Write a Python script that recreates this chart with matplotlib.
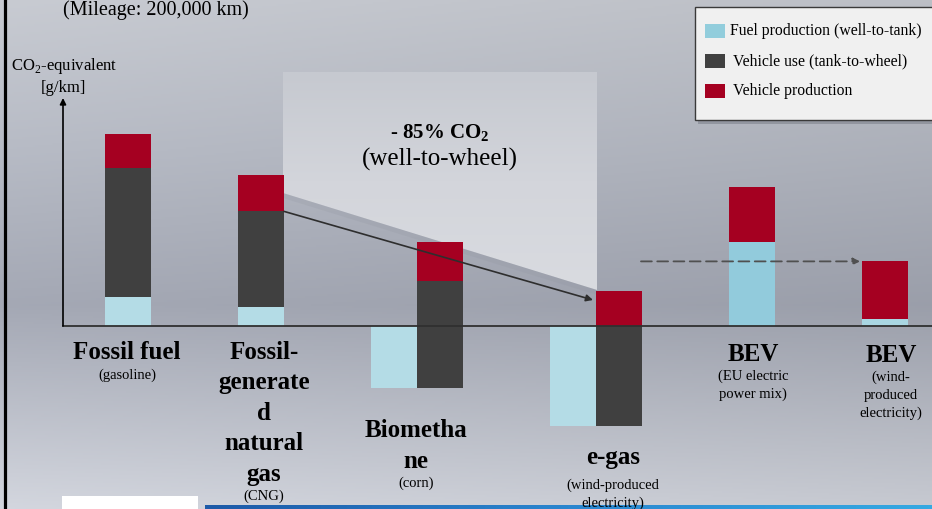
import matplotlib
matplotlib.use("Agg")
import matplotlib.pyplot as plt
import numpy as np
from matplotlib.patches import Rectangle, Polygon
from matplotlib.colors import LinearSegmentedColormap

plt.rcParams["font.family"] = ["Liberation Serif", "DejaVu Serif"]
plt.rcParams["mathtext.fontset"] = "custom"
plt.rcParams["mathtext.rm"] = "Liberation Serif"
plt.rcParams["mathtext.bf"] = "Liberation Serif:bold"

# Valores estimados a partir da figura (CO2-equivalente, g/km)
categories = ["Fossil fuel", "Fossil-generated natural gas", "Biomethane", "e-gas",
              "BEV (EU mix)", "BEV (wind)"]
fuel_production = [38, 25, -80, -130, 109, 9]
vehicle_use = [167, 124, 138, 130, 0, 0]
vehicle_production = [45, 47, 51, 46, 72, 75]

main_labels = [["Fossil fuel"], ["Fossil-", "generate", "d", "natural", "gas"],
               ["Biometha", "ne"], ["e-gas"], ["BEV"], ["BEV"]]
sub_labels = [["(gasoline)"], ["(CNG)"], ["(corn)"], ["(wind-produced", "electricity)"],
              ["(EU electric", "power mix)"], ["(wind-", "produced", "electricity)"]]
legend_labels = ["Fuel production (well-to-tank)", "Vehicle use (tank-to-wheel)",
                 "Vehicle production"]

# Estilo / layout
W, H = 932, 509
ZERO_PX = 326          # linha do zero (pixels a partir do topo)
UNIT_PER_PX = 1.3
DARK = "#404040"
RED = "#a50021"
fuel_colors = ["#b4dce6", "#b4dce6", "#b4dce6", "#b4dce6", "#92cbdc", "#a9d6e2"]
bar_x = [128, 261, 440, 619, 752, 885]
bar_w = 46
label_x = [127, 264, 416, 613, 753, 891]
main_base = [359, 359, 437, 464, 361, 362]
sub_base = [379, 500, 487, 489, 380, 381]

fig = plt.figure(figsize=(W / 100, H / 100), dpi=100)

# eixo de fundo em pixels
deco = fig.add_axes([0, 0, 1, 1], zorder=0)
deco.set_xlim(0, W)
deco.set_ylim(H, 0)
deco.axis("off")

# fundo em degradê
bg = LinearSegmentedColormap.from_list(
    "bg", [(0, "#c4c7ce"), (0.3, "#b3b7c1"), (0.6, "#a1a5b1"), (1.0, "#cfd2da")])
ys = np.linspace(0, 1, H)
xs = np.linspace(0, 1, W)
img = bg(ys)[:, None, :3] * (1.02 - 0.06 * xs[None, :, None])
deco.imshow(np.clip(img, 0, 1), extent=(0, W, H, 0), aspect="auto", zorder=0)

# área clara (redução de CO2)
poly = Polygon([(283, 72), (597, 72), (597, 290), (283, 193)], closed=True,
               facecolor="none", edgecolor="none")
deco.add_patch(poly)
light = LinearSegmentedColormap.from_list("light", ["#c6c9d0", "#d3d5db", "#d9dbe0"])
im = deco.imshow(light(np.linspace(0, 1, 100))[:, None, :3], extent=(283, 597, 290, 72),
                 aspect="auto", zorder=1)
im.set_clip_path(poly)
deco.add_patch(Polygon([(283, 193), (597, 290), (597, 295), (283, 198)],
                       facecolor="#8f939e", alpha=0.2, edgecolor="none", zorder=1))

# barra preta à esquerda, caixa branca e faixa azul no rodapé
deco.axvline(5, color="black", lw=2.3, zorder=2)
deco.add_patch(Rectangle((62, 496), 136, 13, facecolor="white", edgecolor="none", zorder=2))
blue = LinearSegmentedColormap.from_list("blue", ["#1d5aa8", "#2a86cf", "#35a9e2"])
deco.imshow(blue(np.linspace(0, 1, 200))[None, :, :3], extent=(205, W, H, 505),
            aspect="auto", zorder=2)
deco.set_xlim(0, W)
deco.set_ylim(H, 0)

# eixo dos dados
ax = fig.add_axes([0, 0, 1, 1], zorder=1)
ax.patch.set_alpha(0)
ax.axis("off")
ax.set_xlim(0, W)
ax.set_ylim(-(H - ZERO_PX) * UNIT_PER_PX, ZERO_PX * UNIT_PER_PX)
px = deco.transData

for i in range(len(categories)):
    f, u, p = fuel_production[i], vehicle_use[i], vehicle_production[i]
    if f < 0:
        # produção de combustível negativa: barra ao lado
        ax.bar(bar_x[i] - bar_w, f, bar_w, color=fuel_colors[i], zorder=2)
        ax.bar(bar_x[i], u, bar_w, bottom=f, color=DARK, zorder=2)
        ax.bar(bar_x[i], p, bar_w, bottom=f + u, color=RED, zorder=2)
    else:
        ax.bar(bar_x[i], f, bar_w, color=fuel_colors[i], zorder=2)
        ax.bar(bar_x[i], u, bar_w, bottom=f, color=DARK, zorder=2)
        ax.bar(bar_x[i], p, bar_w, bottom=f + u, color=RED, zorder=2)

# eixos com seta
ax.plot([63, W], [0, 0], color="#303030", lw=1.3, zorder=3)
ax.annotate("", xy=(63, 98), xycoords=px, xytext=(63, ZERO_PX), textcoords=px,
            arrowprops=dict(arrowstyle="-|>", color="black", lw=1.2,
                            mutation_scale=9, shrinkA=0, shrinkB=0))

# seta -85%
ax.annotate("", xy=(bar_x[3] - bar_w / 2 - 3, 300), xycoords=px,
            xytext=(bar_x[1] + bar_w / 2, fuel_production[1] + vehicle_use[1]),
            textcoords="data",
            arrowprops=dict(arrowstyle="-|>", color="#2e2e2e", lw=1.2,
                            mutation_scale=10, shrinkA=0, shrinkB=0))
# seta tracejada entre os BEV
bev_total = fuel_production[5] + vehicle_production[5]
ax.annotate("", xy=(bar_x[5] - bar_w / 2 - 2, bev_total), xytext=(641, bev_total),
            arrowprops=dict(arrowstyle="-|>", color="#505050", lw=1.3, linestyle=(0, (6, 3)),
                            mutation_scale=10, shrinkA=0, shrinkB=0))

# textos
ax.text(63, 15, "(Mileage: 200,000 km)", transform=px, fontsize=14.5, ha="left", va="baseline")
ax.text(64, 70, "CO$_2$-equivalent", transform=px, fontsize=12, ha="center", va="baseline")
ax.text(63, 92, "[g/km]", transform=px, fontsize=12, ha="center", va="baseline")
ax.text(440, 138, r"- 85% CO$_\mathbf{2}$", transform=px, fontsize=15, fontweight="bold",
        ha="center", va="baseline")
ax.text(440, 166, "(well-to-wheel)", transform=px, fontsize=18, ha="center", va="baseline")

for i in range(len(categories)):
    for j, line in enumerate(main_labels[i]):
        ax.text(label_x[i], main_base[i] + j * 30.5, line, transform=px, fontsize=18,
                fontweight="bold", ha="center", va="baseline")
    for j, line in enumerate(sub_labels[i]):
        ax.text(label_x[i], sub_base[i] + j * 18, line, transform=px, fontsize=10.5,
                ha="center", va="baseline")

# legenda (caixa cortada na borda direita)
ax.add_patch(Rectangle((698, 11), 250, 113, transform=px, facecolor="#6e727c", alpha=0.45,
                       edgecolor="none", zorder=4))
ax.add_patch(Rectangle((695, 7), 250, 113, transform=px, facecolor="#f0f0f0",
                       edgecolor="#3a3a3a", lw=1, zorder=5))
leg_colors = ["#92cddc", DARK, RED]
for k, (lab, col) in enumerate(zip(legend_labels, leg_colors)):
    ax.add_patch(Rectangle((705, 24 + 30 * k), 20, 14, transform=px, facecolor=col,
                           edgecolor="none", zorder=6))
    ax.text(730 + (3 if k else 0), 35 + 30 * k, lab, transform=px, fontsize=11.3,
            ha="left", va="baseline", zorder=6)

fig.savefig("out.png", dpi=100)
